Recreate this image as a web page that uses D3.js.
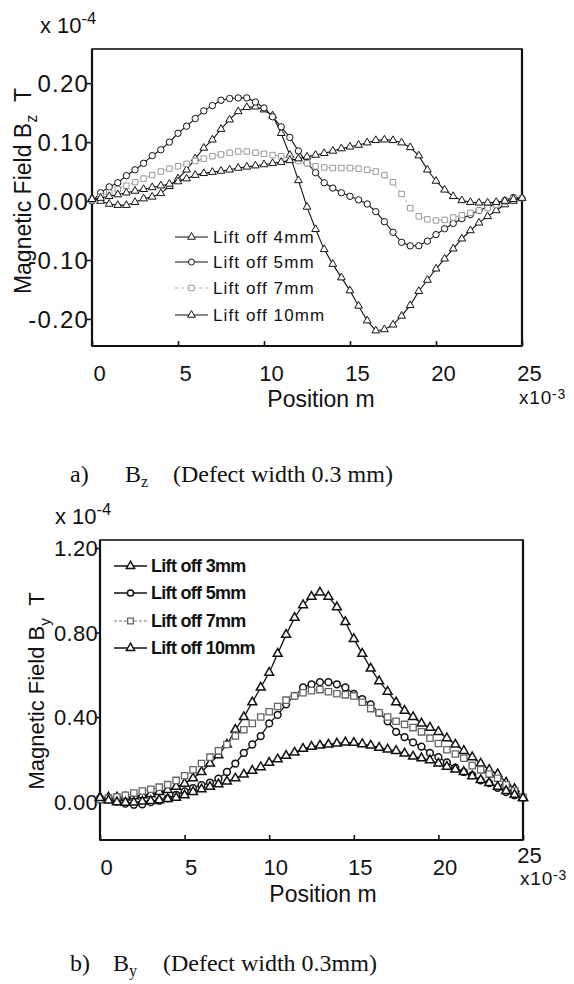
<!DOCTYPE html>
<html><head><meta charset="utf-8">
<script src="https://cdn.jsdelivr.net/npm/d3@7/dist/d3.min.js"></script>
<style>
html,body{margin:0;padding:0;background:#fff;}
svg{display:block;}
text{font-family:"Liberation Sans",Arial,sans-serif;fill:#111;}
</style></head>
<body>
<svg id="chart" width="574" height="984"></svg>
<script>
// ---------- DATA ----------
const positions = [0,0.5,1,1.5,2,2.5,3,3.5,4,4.5,5,5.5,6,6.5,7,7.5,8,8.5,9,9.5,10,10.5,11,11.5,12,12.5,13,13.5,14,14.5,15,15.5,16,16.5,17,17.5,18,18.5,19,19.5,20,20.5,21,21.5,22,22.5,23,23.5,24,24.5,25];

// Bz (x 1e-4 T)
const bzLift4 = [0.005,0.000,-0.005,-0.007,-0.007,-0.002,0.004,0.007,0.013,0.025,0.038,0.053,0.072,0.090,0.104,0.122,0.138,0.152,0.159,0.160,0.155,0.145,0.115,0.078,0.035,-0.010,-0.048,-0.082,-0.107,-0.130,-0.152,-0.178,-0.203,-0.220,-0.218,-0.210,-0.195,-0.177,-0.153,-0.134,-0.115,-0.098,-0.081,-0.064,-0.050,-0.037,-0.026,-0.016,-0.006,0.000,0.005];
const bzLift5 = [0.000,0.014,0.024,0.031,0.043,0.053,0.064,0.077,0.087,0.100,0.115,0.127,0.140,0.153,0.162,0.171,0.174,0.175,0.175,0.168,0.158,0.143,0.126,0.108,0.085,0.065,0.048,0.031,0.022,0.014,0.008,0.002,-0.005,-0.018,-0.035,-0.053,-0.070,-0.076,-0.076,-0.068,-0.057,-0.047,-0.038,-0.030,-0.023,-0.016,-0.010,-0.004,0.001,0.006,0.005];
const bzLift7 = [0.002,0.008,0.014,0.020,0.026,0.032,0.038,0.044,0.050,0.055,0.059,0.063,0.068,0.072,0.076,0.079,0.082,0.084,0.084,0.082,0.080,0.078,0.076,0.073,0.068,0.064,0.059,0.057,0.056,0.056,0.056,0.055,0.053,0.050,0.044,0.032,0.012,-0.012,-0.026,-0.031,-0.033,-0.032,-0.028,-0.024,-0.020,-0.016,-0.012,-0.006,-0.001,0.004,0.005];
const bzLift10 = [0.003,0.005,0.008,0.011,0.014,0.017,0.020,0.023,0.026,0.029,0.033,0.038,0.044,0.047,0.049,0.051,0.053,0.056,0.058,0.060,0.062,0.064,0.066,0.069,0.072,0.075,0.078,0.081,0.085,0.089,0.092,0.095,0.099,0.103,0.104,0.103,0.099,0.091,0.077,0.053,0.034,0.019,0.008,0.001,-0.002,-0.003,-0.003,-0.002,0.000,0.003,0.005];

// By (x 1e-4 T)
const byLift3 = [0.02,0.02,0.02,0.02,0.025,0.03,0.035,0.045,0.055,0.07,0.085,0.11,0.14,0.18,0.22,0.27,0.34,0.40,0.47,0.54,0.61,0.70,0.79,0.87,0.93,0.97,0.99,0.97,0.92,0.85,0.77,0.70,0.63,0.57,0.52,0.47,0.43,0.40,0.37,0.35,0.33,0.30,0.27,0.24,0.21,0.18,0.15,0.13,0.09,0.06,0.02];
const byLift5 = [0.01,0.01,0.0,-0.01,-0.015,-0.013,-0.003,0.004,0.015,0.032,0.048,0.064,0.078,0.09,0.108,0.14,0.18,0.23,0.27,0.31,0.37,0.41,0.46,0.50,0.54,0.555,0.565,0.565,0.555,0.54,0.51,0.485,0.46,0.42,0.38,0.33,0.305,0.28,0.26,0.23,0.21,0.185,0.16,0.14,0.125,0.10,0.087,0.065,0.045,0.03,0.02];
const byLift7 = [0.01,0.016,0.022,0.03,0.04,0.05,0.058,0.068,0.08,0.10,0.122,0.15,0.18,0.21,0.24,0.27,0.31,0.34,0.37,0.40,0.425,0.45,0.48,0.50,0.515,0.525,0.53,0.52,0.51,0.505,0.50,0.47,0.44,0.42,0.40,0.38,0.365,0.35,0.33,0.30,0.275,0.245,0.225,0.205,0.17,0.15,0.13,0.11,0.08,0.05,0.02];
const byLift10 = [0.017,0.005,-0.003,-0.005,-0.004,0.0,0.003,0.007,0.012,0.018,0.03,0.046,0.058,0.07,0.082,0.095,0.11,0.128,0.146,0.163,0.184,0.2,0.217,0.232,0.25,0.26,0.265,0.27,0.275,0.28,0.278,0.272,0.265,0.255,0.247,0.24,0.228,0.213,0.205,0.196,0.18,0.165,0.152,0.14,0.12,0.102,0.088,0.07,0.05,0.032,0.016];

const xTicks = [0,5,10,15,20,25];
const bzTicks = [-0.2,-0.1,0,0.1,0.2];
const byTicks = [0,0.4,0.8,1.2];
const bzLegend = ["Lift off 4mm","Lift off 5mm","Lift off 7mm","Lift off 10mm"];
const byLegend = ["Lift off 3mm","Lift off 5mm","Lift off 7mm","Lift off 10mm"];

// ---------- DRAW ----------
const svg = d3.select("#chart");

function drawChart(cfg){
  const g = svg.append("g");
  const x = d3.scaleLinear().domain([0,25]).range([cfg.left,cfg.right]);
  const y = d3.scaleLinear().domain(cfg.yDomain).range([cfg.bottom,cfg.top]);

  // frame
  g.append("rect").attr("x",cfg.left).attr("y",cfg.top)
    .attr("width",cfg.right-cfg.left).attr("height",cfg.bottom-cfg.top)
    .attr("fill","none").attr("stroke","#111").attr("stroke-width",1.6);
  g.append("line").attr("x1",cfg.left).attr("x2",cfg.left).attr("y1",cfg.top).attr("y2",cfg.bottom)
    .attr("stroke","#111").attr("stroke-width",2.2);
  g.append("line").attr("x1",cfg.left).attr("x2",cfg.right).attr("y1",cfg.bottom).attr("y2",cfg.bottom)
    .attr("stroke","#111").attr("stroke-width",2.2);
  g.append("line").attr("x1",cfg.right).attr("x2",cfg.right).attr("y1",cfg.top).attr("y2",cfg.bottom)
    .attr("stroke","#111").attr("stroke-width",2.2);

  // x axis (inward ticks)
  const xa = g.append("g").attr("transform",`translate(0,${cfg.bottom})`)
    .call(d3.axisBottom(x).tickValues(xTicks).tickSizeInner(-5).tickSizeOuter(0).tickPadding(0).tickFormat(d3.format("d")));
  xa.select(".domain").remove();
  xa.selectAll(".tick line").attr("stroke","#111").attr("stroke-width",1.6);
  xa.selectAll(".tick text")
    .attr("y",(d,i)=> i===xTicks.length-1 ? cfg.xLabelDy-cfg.lastLabelRaise : cfg.xLabelDy)
    .attr("dy",null).attr("dx",cfg.xLabelShift)
    .style("font-size",cfg.xTickFont+"px").attr("fill","#111");

  // y axis (outward ticks)
  const ya = g.append("g").attr("transform",`translate(${cfg.left},0)`)
    .call(d3.axisLeft(y).tickValues(cfg.yTicks).tickSizeInner(5).tickSizeOuter(0).tickPadding(0).tickFormat(d=>d.toFixed(2)));
  ya.select(".domain").remove();
  ya.selectAll(".tick line").attr("stroke","#111").attr("stroke-width",1.6);
  ya.selectAll(".tick text").attr("x",cfg.yLabelDx).attr("dy","0.36em")
    .style("font-size",cfg.yTickFont+"px").style("letter-spacing",cfg.yTickSpacing+"px").attr("fill","#111");

  // series
  const line = d3.line().x((d,i)=>x(positions[i])).y(d=>y(d));
  cfg.series.forEach(s=>{
    g.append("path").datum(s.values).attr("d",line).attr("fill","none")
      .attr("stroke",s.lineColor).attr("stroke-width",s.lineWidth)
      .attr("stroke-dasharray",s.dash||null);
    const sym = d3.symbol().type(s.symbol).size(s.size);
    g.selectAll(null).data(s.values).enter().append("path")
      .attr("d",sym).attr("transform",(d,i)=>`translate(${x(positions[i])},${y(d)})`)
      .attr("fill","#fff").attr("stroke",s.markColor).attr("stroke-width",s.markWidth);
  });

  // legend
  const lg = g.append("g");
  cfg.series.forEach((s,i)=>{
    const ly = cfg.legend.y[i];
    lg.append("line").attr("x1",cfg.legend.x1).attr("x2",cfg.legend.x2).attr("y1",ly).attr("y2",ly)
      .attr("stroke",s.lineColor).attr("stroke-width",s.lineWidth).attr("stroke-dasharray",s.dash||null);
    lg.append("path").attr("d",d3.symbol().type(s.symbol).size(s.legendSize)())
      .attr("transform",`translate(${(cfg.legend.x1+cfg.legend.x2)/2},${ly})`)
      .attr("fill","#fff").attr("stroke",s.markColor).attr("stroke-width",s.markWidth);
    lg.append("text").attr("x",cfg.legend.tx).attr("y",ly).attr("dy","0.36em")
      .style("font-size",cfg.legend.font+"px").style("font-weight",cfg.legend.weight)
      .style("letter-spacing",cfg.legend.spacing+"px")
      .text(cfg.legend.labels[i]);
  });

  // x title
  g.append("text").attr("x",cfg.xTitle.x).attr("y",cfg.xTitle.y).attr("text-anchor","middle")
    .style("font-size",cfg.xTitle.font+"px").text("Position m");
  // x multiplier
  const xm = g.append("text").attr("x",cfg.xMul.x).attr("y",cfg.xMul.y)
    .style("font-size",cfg.xMul.font+"px").style("letter-spacing","0.8px");
  xm.append("tspan").text("x10");
  xm.append("tspan").attr("dy",-5).style("font-size","14px").text("-3");
  // y multiplier
  const ymul = g.append("text").attr("x",cfg.yMul.x).attr("y",cfg.yMul.y).style("font-size",cfg.yMul.font+"px");
  ymul.append("tspan").text("x 10");
  ymul.append("tspan").attr("dy",-cfg.yMul.font*0.4).style("font-size",(cfg.yMul.font*0.75)+"px").text("-4");
  // y title
  const yt = g.append("text").attr("transform",`translate(${cfg.yTitle.x},${cfg.yTitle.y}) rotate(-90)`)
    .attr("text-anchor","middle").style("font-size",cfg.yTitle.font+"px");
  yt.append("tspan").text("Magnetic Field B");
  yt.append("tspan").attr("dy",cfg.yTitle.font*0.25).style("font-size",(cfg.yTitle.font*0.7)+"px").text(cfg.yTitle.sub);
  yt.append("tspan").attr("dy",-cfg.yTitle.font*0.25).text("\u00a0\u00a0T");

  // caption
  const cap = g.append("text").attr("y",cfg.caption.y)
    .style("font-family",'"Liberation Serif","Times New Roman",serif').style("font-size","24px");
  cap.append("tspan").attr("x",cfg.caption.x[0]).text(cfg.caption.letter);
  cap.append("tspan").attr("x",cfg.caption.x[1]).text("B");
  cap.append("tspan").attr("dy",5).style("font-size","16px").text(cfg.caption.sub);
  cap.append("tspan").attr("x",cfg.caption.x[2]).attr("dy",-5).text(cfg.caption.text);
}

drawChart({
  left:92,right:522,top:49,bottom:346,
  yDomain:[-0.246,0.258], yTicks:bzTicks, xTickFont:22, yTickFont:24, yTickSpacing:1.2,
  xLabelDy:35, xLabelShift:7, lastLabelRaise:0, yLabelDx:-3,
  series:[
    {values:bzLift4,symbol:d3.symbolTriangle,size:26,legendSize:26,lineColor:"#111",lineWidth:1.1,markColor:"#111",markWidth:1},
    {values:bzLift5,symbol:d3.symbolCircle,size:32,legendSize:28,lineColor:"#111",lineWidth:1.1,markColor:"#111",markWidth:1},
    {values:bzLift7,symbol:d3.symbolSquare,size:30,legendSize:28,lineColor:"#aaa",lineWidth:1,markColor:"#999",markWidth:1,dash:"3,3"},
    {values:bzLift10,symbol:d3.symbolTriangle,size:26,legendSize:26,lineColor:"#111",lineWidth:1.1,markColor:"#111",markWidth:1}
  ],
  legend:{x1:175,x2:208,tx:213,y:[237,262,288,315],font:17,weight:"normal",spacing:1.1,labels:bzLegend},
  xTitle:{x:321,y:407,font:23},
  xMul:{x:519,y:404,font:19},
  yMul:{x:40,y:33,font:22},
  yTitle:{x:31,y:191,font:23,sub:"z"},
  caption:{y:482,x:[70,125,173],letter:"a)",sub:"z",text:"(Defect width 0.3 mm)"}
});

drawChart({
  left:100,right:523,top:540,bottom:840,
  yDomain:[-0.182,1.238], yTicks:byTicks, xTickFont:22, yTickFont:22, yTickSpacing:0.3,
  xLabelDy:35, xLabelShift:6, lastLabelRaise:12, yLabelDx:-2,
  series:[
    {values:byLift3,symbol:d3.symbolTriangle,size:34,legendSize:30,lineColor:"#111",lineWidth:1.3,markColor:"#111",markWidth:1.5},
    {values:byLift5,symbol:d3.symbolCircle,size:36,legendSize:30,lineColor:"#111",lineWidth:1.3,markColor:"#111",markWidth:1.5},
    {values:byLift7,symbol:d3.symbolSquare,size:40,legendSize:32,lineColor:"#777",lineWidth:1,markColor:"#666",markWidth:1.3,dash:"3,2"},
    {values:byLift10,symbol:d3.symbolTriangle,size:34,legendSize:30,lineColor:"#111",lineWidth:1.3,markColor:"#111",markWidth:1.5}
  ],
  legend:{x1:114,x2:147,tx:151,y:[566,593,621,648],font:18,weight:"bold",spacing:-0.7,labels:byLegend},
  xTitle:{x:323,y:902,font:23},
  xMul:{x:520,y:885,font:19},
  yMul:{x:55,y:524,font:22},
  yTitle:{x:44,y:691,font:22,sub:"y"},
  caption:{y:971,x:[70,113,163],letter:"b)",sub:"y",text:"(Defect width 0.3mm)"}
});
</script>
</body></html>
